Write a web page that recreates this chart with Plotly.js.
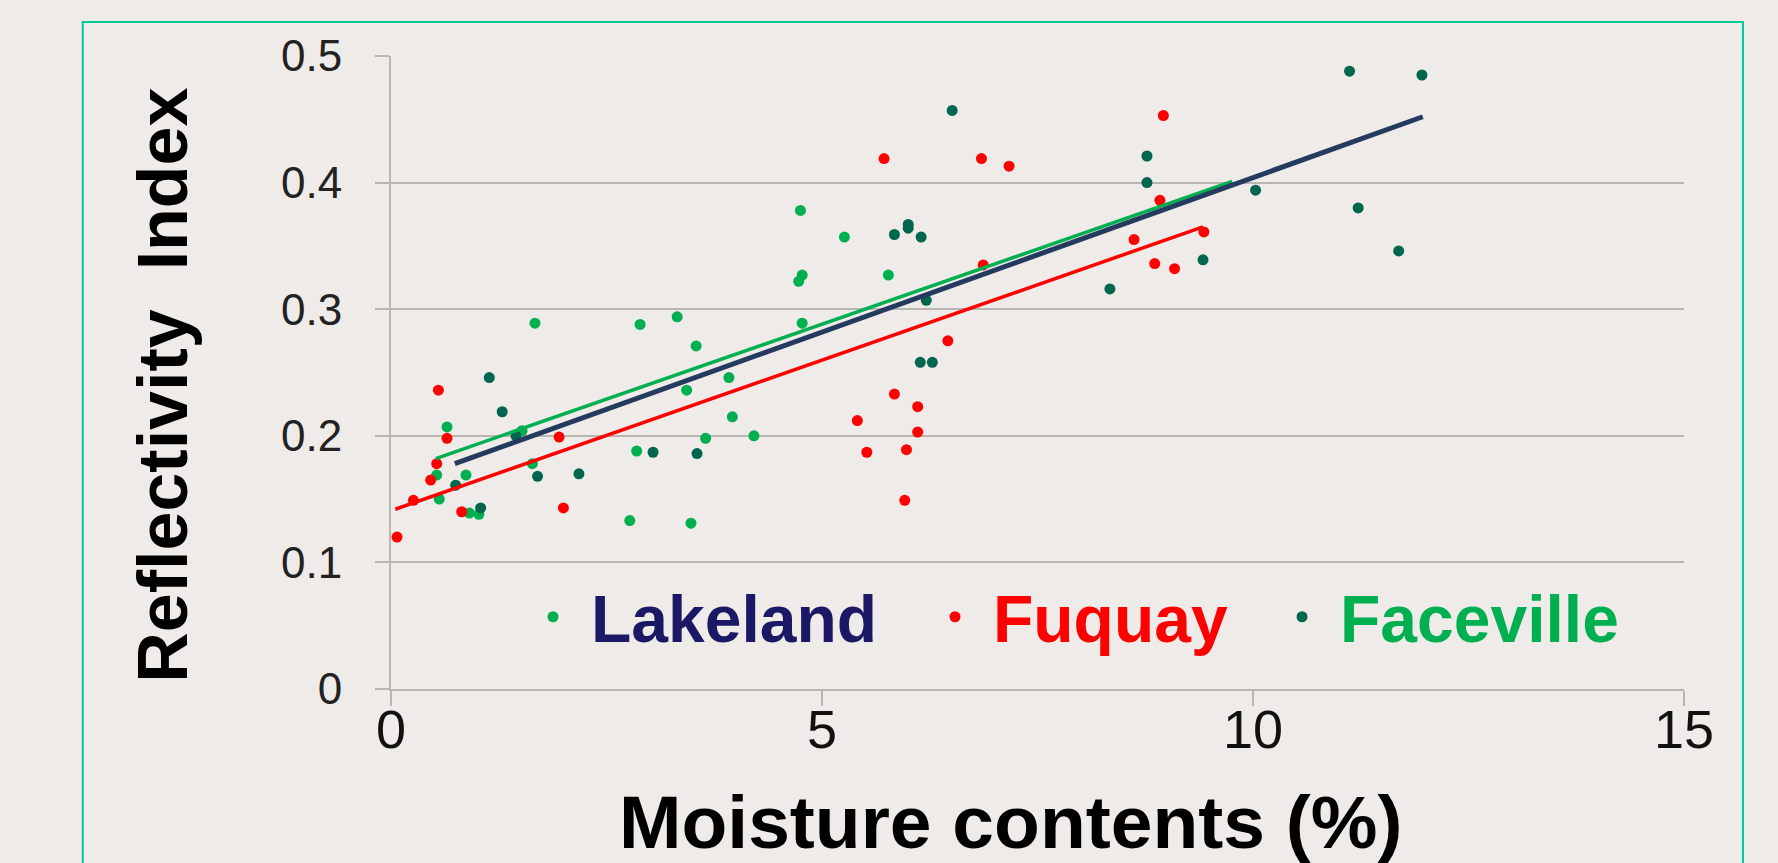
<!DOCTYPE html>
<html><head><meta charset="utf-8">
<script src="https://cdn.plot.ly/plotly-3.0.1.min.js"></script>
<style>html,body{margin:0;padding:0;background:#EEEBE8;}#chart{width:1778px;height:863px;}</style>
</head><body><div id="chart"></div>
<script>
// Lakeland (light green markers)
const lakelandX = [4.75, 5.26, 4.77, 4.73, 4.77, 1.67, 2.89, 3.32, 3.54, 3.92, 3.43, 3.96, 0.65, 1.52, 3.65, 4.21, 2.85, 1.64, 0.53, 0.87, 0.56, 0.91, 1.02, 2.77, 3.48, 5.77];
const lakelandY = [0.378, 0.357, 0.327, 0.322, 0.289, 0.289, 0.288, 0.294, 0.271, 0.246, 0.236, 0.215, 0.207, 0.204, 0.198, 0.200, 0.188, 0.178, 0.169, 0.169, 0.150, 0.139, 0.138, 0.133, 0.131, 0.327];
// Fuquay (red markers)
const fuquayX = [0.55, 0.65, 1.95, 5.41, 5.52, 0.53, 0.46, 0.26, 0.82, 2.00, 0.07, 8.96, 5.72, 6.85, 7.17, 8.92, 8.62, 9.43, 8.86, 9.09, 6.87, 6.46, 5.84, 6.11, 6.11, 5.98, 5.96];
const fuquayY = [0.236, 0.198, 0.199, 0.212, 0.187, 0.178, 0.165, 0.149, 0.140, 0.143, 0.120, 0.453, 0.419, 0.419, 0.413, 0.386, 0.355, 0.361, 0.336, 0.332, 0.335, 0.275, 0.233, 0.223, 0.203, 0.189, 0.149];
// Faceville (dark green markers)
const facevilleX = [1.14, 1.29, 1.45, 3.04, 3.55, 1.70, 2.18, 0.75, 1.04, 6.51, 8.77, 8.77, 10.03, 11.22, 5.84, 6.00, 6.00, 6.15, 11.69, 9.42, 8.34, 6.21, 11.12, 11.96, 6.14, 6.28];
const facevilleY = [0.246, 0.219, 0.200, 0.187, 0.186, 0.168, 0.170, 0.161, 0.143, 0.457, 0.421, 0.400, 0.394, 0.380, 0.359, 0.367, 0.364, 0.357, 0.346, 0.339, 0.316, 0.307, 0.488, 0.485, 0.258, 0.258];
// Trend lines (end points as drawn)
const trendRedX = [0.05, 9.42];
const trendRedY = [0.142, 0.365];
const trendGreenX = [0.52, 9.76];
const trendGreenY = [0.182, 0.401];
const trendNavyX = [0.74, 11.97];
const trendNavyY = [0.178, 0.452];
const seriesNames = ['Lakeland', 'Fuquay', 'Faceville'];
const xTickVals = [0, 5, 10, 15];
const yTickVals = [0, 0.1, 0.2, 0.3, 0.4, 0.5];
const xTitle = 'Moisture contents (%)';
const yTitle = 'Reflectivity  Index';

const FONT = 'Liberation Sans, Arial, sans-serif';
const BG = '#EEEBE8';
const GRID = '#B9B5B1';

const traces = [
  {x: lakelandX, y: lakelandY, type: 'scatter', mode: 'markers', name: seriesNames[0], legend: 'legend',
   marker: {color: '#00B050', size: 11}},
  {x: fuquayX, y: fuquayY, type: 'scatter', mode: 'markers', name: seriesNames[1], legend: 'legend2',
   marker: {color: '#FF0000', size: 11}},
  {x: facevilleX, y: facevilleY, type: 'scatter', mode: 'markers', name: seriesNames[2], legend: 'legend3',
   marker: {color: '#00664D', size: 11}},
  {x: trendRedX, y: trendRedY, type: 'scatter', mode: 'lines', showlegend: false, hoverinfo: 'skip',
   line: {color: '#FF0000', width: 3.5}},
  {x: trendGreenX, y: trendGreenY, type: 'scatter', mode: 'lines', showlegend: false, hoverinfo: 'skip',
   line: {color: '#00B050', width: 3.5}},
  {x: trendNavyX, y: trendNavyY, type: 'scatter', mode: 'lines', showlegend: false, hoverinfo: 'skip',
   line: {color: '#243A5E', width: 5}}
];

function legendCfg(x, color) {
  return {x: x, y: 0.114, xanchor: 'left', yanchor: 'middle', orientation: 'h',
    bgcolor: 'rgba(0,0,0,0)', borderwidth: 0, itemwidth: 66,
    font: {family: FONT, size: 66, weight: 'bold', color: color}};
}

const layout = {
  width: 1778, height: 863,
  paper_bgcolor: BG, plot_bgcolor: BG,
  margin: {l: 391, r: 94, t: 56, b: 174},
  xaxis: {
    range: [0, 15], tickvals: xTickVals, showgrid: false, zeroline: false,
    showline: true, linecolor: GRID, linewidth: 2,
    ticks: 'outside', ticklen: 15, tickwidth: 2, tickcolor: GRID,
    ticklabelstandoff: -23,
    tickfont: {family: FONT, size: 54, color: '#111'}
  },
  yaxis: {
    range: [0, 0.5], tickvals: yTickVals, showgrid: true, gridcolor: GRID, gridwidth: 2, zeroline: false,
    showline: true, linecolor: GRID, linewidth: 2,
    ticks: 'outside', ticklen: 14, tickwidth: 2, tickcolor: GRID,
    ticklabelstandoff: 24,
    tickfont: {family: FONT, size: 44, color: '#222'}
  },
  annotations: [
    {text: xTitle, xref: 'paper', yref: 'paper', x: 0.479, y: -0.210, xanchor: 'center', yanchor: 'middle',
     showarrow: false, font: {family: FONT, size: 75, weight: 'bold', color: '#000'}},
    {text: yTitle, xref: 'paper', yref: 'paper', x: -0.177, y: 0.4793, xanchor: 'center', yanchor: 'middle',
     textangle: -90, showarrow: false, font: {family: FONT, size: 70, weight: 'bold', color: '#000'}}
  ],
  legend: legendCfg(0.0959, '#1B1866'),
  legend2: legendCfg(0.4068, '#FF0000'),
  legend3: legendCfg(0.6752, '#00B050'),
  shapes: [
    {type: 'rect', xref: 'paper', yref: 'paper', x0: -0.2384, x1: 1.0456, y0: -0.3, y1: 1.0537,
     line: {color: '#00C896', width: 2}, fillcolor: 'rgba(0,0,0,0)', layer: 'below'}
  ],
  showlegend: true
};

Plotly.newPlot('chart', traces, layout, {displayModeBar: false, staticPlot: true});
</script>
</body></html>
